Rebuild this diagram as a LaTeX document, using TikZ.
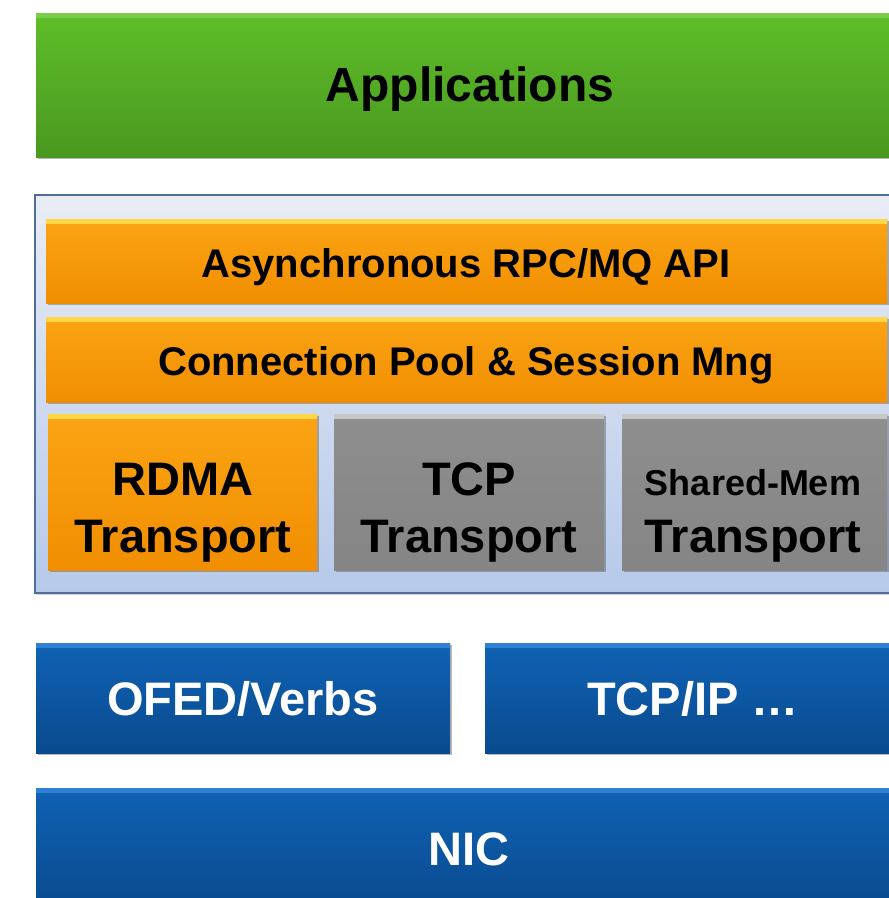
\documentclass[tikz,border=0pt]{standalone}
\usepackage{fontspec}
\setmainfont{Liberation Sans}
\usetikzlibrary{shadows}

\definecolor{grnTop}{HTML}{5EBE28}
\definecolor{grnBot}{HTML}{4A9820}
\definecolor{grnHi}{HTML}{7ACC4A}
\definecolor{orgTop}{HTML}{FBA414}
\definecolor{orgBot}{HTML}{F08E00}
\definecolor{orgHi}{HTML}{FFD848}
\definecolor{gryTop}{HTML}{8E8E8E}
\definecolor{gryBot}{HTML}{858585}
\definecolor{gryHi}{HTML}{C8C8C8}
\definecolor{bluTop}{HTML}{0F62B4}
\definecolor{bluBot}{HTML}{0A4A8E}
\definecolor{bluHi}{HTML}{3080D4}
\definecolor{panTop}{HTML}{E9ECF5}
\definecolor{panBot}{HTML}{B6C9EA}
\definecolor{panEdge}{HTML}{4E6E98}

\tikzset{
  softshadow/.style={drop shadow={shadow xshift=1.6pt, shadow yshift=-2.4pt,
      opacity=0.4, fill=black!70}},
  bevel/.style 2 args={
    path picture={
      \shade[top color=#1, bottom color=#2]
        (path picture bounding box.north west)
        rectangle ([yshift=-4pt]path picture bounding box.north east);
    }},
  layerbox/.style={rectangle, inner sep=0pt, softshadow},
  greenbox/.style={layerbox, top color=grnTop, bottom color=grnBot, bevel={grnHi}{grnTop}},
  orangebox/.style={layerbox, top color=orgTop, bottom color=orgBot, bevel={orgHi}{orgTop}},
  graybox/.style={layerbox, top color=gryTop, bottom color=gryBot, bevel={gryHi}{gryTop}},
  bluebox/.style={layerbox, top color=bluTop, bottom color=bluBot, bevel={bluHi}{bluTop}},
  panel/.style={rectangle, inner sep=0pt, draw=panEdge, line width=1.2pt,
      top color=panTop, bottom color=panBot,
      drop shadow={shadow xshift=1pt, shadow yshift=-2pt, opacity=0.3, fill=black!60}},
  lbl/.style={inner sep=0pt, font=\bfseries\fontsize{47}{56}\selectfont},
  midlbl/.style={inner sep=0pt, font=\bfseries\fontsize{40}{48}\selectfont},
  smalllbl/.style={inner sep=0pt, font=\bfseries\fontsize{36}{42}\selectfont},
}

\begin{document}
\begin{tikzpicture}[x=1pt, y=-1pt]
\useasboundingbox (0,0) rectangle (889,898);
\fill[white] (0,0) rectangle (889,898);

% application layer
\node[greenbox, minimum width=864pt, minimum height=144pt] (app) at (468,85) {};
\node[lbl, font=\bfseries\fontsize{48}{56}\selectfont, anchor=base] (appt) at (470,101) {Applications};

% middleware panel
\node[panel, minimum width=864pt, minimum height=398pt] (mid) at (467,394) {};

\node[orangebox, minimum width=841pt, minimum height=84pt] (rpc) at (466.5,261) {};
\node[midlbl, anchor=base] (rpct) at (466,277) {Asynchronous RPC/MQ API};

\node[orangebox, minimum width=841pt, minimum height=85pt] (pool) at (466.5,359.5) {};
\node[midlbl, anchor=base] (poolt) at (466,375) {Connection Pool \& Session Mng};

% transports
\node[orangebox, minimum width=269pt, minimum height=156pt] (rdma) at (182.5,492) {};
\node[lbl, anchor=base] (rdma1) at (183,495) {RDMA};
\node[lbl, anchor=base] (rdma2) at (183,552) {Transport};

\node[graybox, minimum width=270pt, minimum height=156pt] (tcp) at (469,492) {};
\node[lbl, anchor=base] (tcp1) at (469,495) {TCP};
\node[lbl, anchor=base] (tcp2) at (469,552) {Transport};

\node[graybox, minimum width=265pt, minimum height=156pt] (shm) at (754.5,492) {};
\node[smalllbl, anchor=base] (shm1) at (753,495) {Shared-Mem};
\node[lbl, anchor=base] (shm2) at (753,552) {Transport};

% kernel stacks
\node[bluebox, minimum width=414pt, minimum height=110pt] (ofed) at (243,698) {};
\node[lbl, text=white, anchor=base] (ofedt) at (243,715) {OFED/Verbs};

\node[bluebox, minimum width=416pt, minimum height=110pt] (tcpip) at (693,698) {};
\node[lbl, text=white, anchor=base] (tcpipt) at (693,715) {TCP/IP \ldots};

% hardware
\node[bluebox, minimum width=864pt, minimum height=120pt] (nic) at (468,848) {};
\node[lbl, text=white, anchor=base] (nict) at (469,865) {NIC};
\end{tikzpicture}
\end{document}
